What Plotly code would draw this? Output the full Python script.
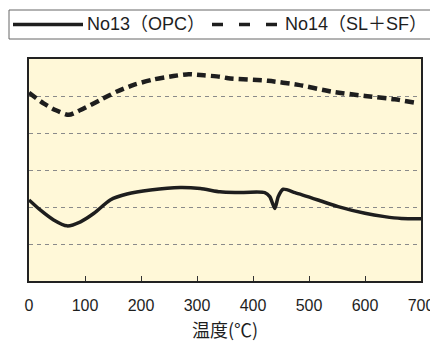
import plotly.graph_objects as go

# ---- data ----
temp_no13 = [0, 20, 44, 68, 92, 116, 145, 175, 217, 270, 306, 341, 368, 421, 430, 439, 445, 454, 475, 516, 552, 600, 635, 665, 700]
val_no13 = [2.19, 1.92, 1.65, 1.49, 1.60, 1.83, 2.19, 2.35, 2.46, 2.53, 2.50, 2.41, 2.39, 2.39, 2.28, 1.96, 2.28, 2.48, 2.39, 2.19, 2.01, 1.83, 1.74, 1.69, 1.68]

temp_no14 = [0, 26, 47, 71, 92, 127, 157, 187, 223, 258, 285, 312, 341, 356, 427, 481, 540, 600, 653, 689]
val_no14 = [5.09, 4.80, 4.62, 4.49, 4.62, 4.89, 5.12, 5.30, 5.45, 5.54, 5.59, 5.56, 5.52, 5.48, 5.41, 5.30, 5.12, 5.00, 4.91, 4.82]

x_ticks = [0, 100, 200, 300, 400, 500, 600, 700]
series_names = ["No13（OPC）", "No14（SL＋SF）"]
x_title = "温度(℃)"

# the page body adds an 8px margin, so the figure is drawn 8px smaller and offset
OFF = 8
W, H = 438 - OFF, 342 - OFF
L, R, T, B = 29 - OFF, 17, 59 - OFF, 61
PW, PH = W - L - R, H - T - B


def px_x(p):
    return (p - OFF - L) / PW


def px_y(p):
    return (H - B - (p - OFF)) / PH


fig = go.Figure()
fig.add_trace(go.Scatter(x=temp_no13, y=val_no13, mode="lines", name=series_names[0],
                         line=dict(color="#1e1e1e", width=3.5, shape="spline", smoothing=0.6),
                         showlegend=False))
fig.add_trace(go.Scatter(x=temp_no14, y=val_no14, mode="lines", name=series_names[1],
                         line=dict(color="#1e1e1e", width=4.5, dash="9px,5px", shape="spline", smoothing=0.6),
                         showlegend=False))

shapes = [
    dict(type="rect", xref="paper", yref="paper", x0=px_x(9), x1=px_x(435), y0=px_y(39), y1=px_y(10),
         line=dict(color="#666666", width=1), fillcolor="white", layer="above"),
    dict(type="line", xref="paper", yref="paper", x0=px_x(13), x1=px_x(83), y0=px_y(24.5), y1=px_y(24.5),
         line=dict(color="#1e1e1e", width=3.5)),
    dict(type="line", xref="paper", yref="paper", x0=px_x(212), x1=px_x(282), y0=px_y(24.5), y1=px_y(24.5),
         line=dict(color="#1e1e1e", width=3.5, dash="11px,16px")),
]

leg_font = dict(size=18, color="#1e1e1e", family="Liberation Sans, Arial, Noto Sans CJK JP")
annotations = [
    dict(xref="paper", yref="paper", x=px_x(85), y=px_y(24.5), text=series_names[0], showarrow=False,
         xanchor="left", yanchor="middle", font=leg_font),
    dict(xref="paper", yref="paper", x=px_x(283), y=px_y(24.5), text=series_names[1], showarrow=False,
         xanchor="left", yanchor="middle", font=leg_font),
]

fig.update_layout(
    width=W, height=H,
    margin=dict(l=L, r=R, t=T, b=B),
    paper_bgcolor="white",
    plot_bgcolor="#fff8d8",
    shapes=shapes,
    annotations=annotations,
    showlegend=False,
    font=dict(family="Liberation Sans, Arial, Noto Sans CJK JP", size=16, color="#1e1e1e"),
)

fig.update_xaxes(range=[0, 700], tickvals=x_ticks, ticktext=[str(v) for v in x_ticks],
                 ticks="inside", ticklen=5, tickcolor="#333333", tickwidth=1,
                 showline=True, linecolor="#222222", linewidth=2, mirror=True,
                 showgrid=False, zeroline=False, ticklabelstandoff=9,
                 title=dict(text=x_title, font=dict(size=18, family="Noto Sans CJK JP"), standoff=17),
                 automargin=False)
fig.update_yaxes(range=[0, 6], dtick=1, showticklabels=False, ticks="",
                 showline=True, linecolor="#222222", linewidth=2, mirror=True,
                 showgrid=True, gridcolor="#8a8a8a", gridwidth=1, griddash="4px,4px", zeroline=False,
                 automargin=False)

fig.write_html("out.html")
